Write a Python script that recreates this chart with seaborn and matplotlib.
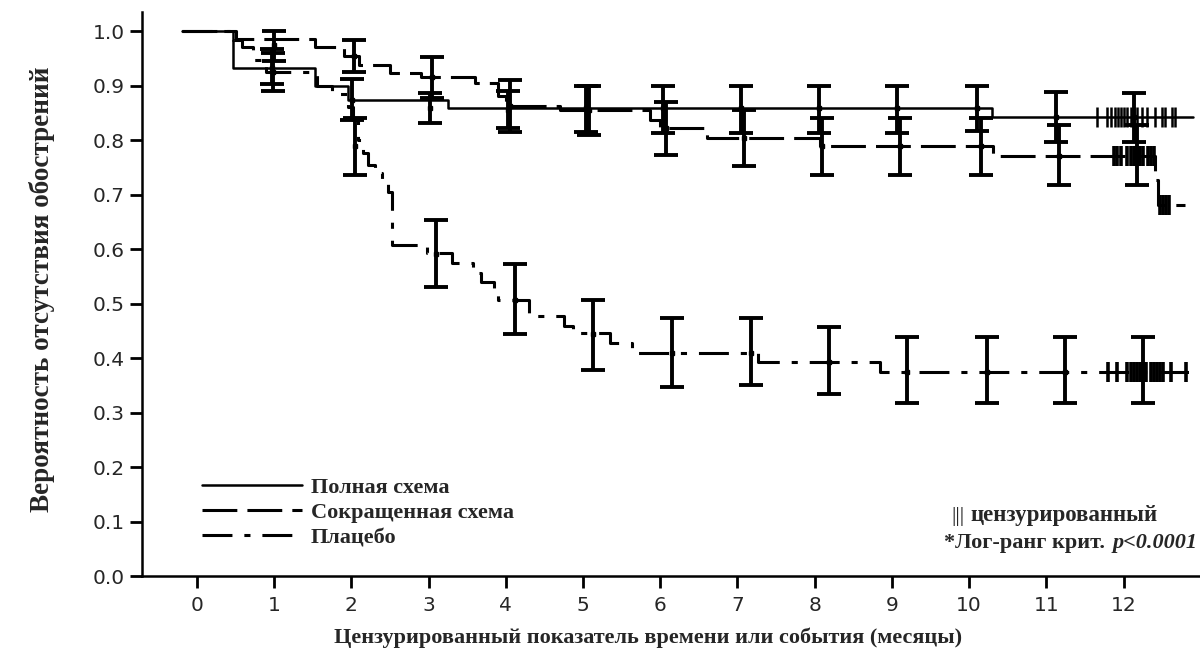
import matplotlib
matplotlib.use("Agg")
import matplotlib.pyplot as plt
import seaborn as sns
import pandas as pd

# Kaplan-Meier steps (months, probability)
full_t = [-0.2, 0.47, 1.53, 1.95, 3.25, 10.3, 12.9]
full_s = [1.0, 0.932, 0.90, 0.873, 0.858, 0.842, 0.842]

short_t = [-0.2, 0.5, 1.53, 1.9, 2.1, 2.5, 2.9, 3.6, 3.9, 4.0, 4.7,
           5.87, 6.0, 6.6, 8.07, 10.31, 12.41, 12.44, 12.8]
short_s = [1.0, 0.985, 0.97, 0.955, 0.937, 0.923, 0.915, 0.905, 0.88, 0.862, 0.855,
           0.837, 0.822, 0.804, 0.789, 0.771, 0.727, 0.681, 0.681]

placebo_t = [-0.2, 0.47, 0.58, 0.72, 0.9, 1.55, 1.75, 1.95, 2.02, 2.08, 2.15, 2.22,
             2.3, 2.4, 2.47, 2.53, 2.98, 3.3, 3.58, 3.68, 3.85, 3.9, 4.3, 4.75,
             4.87, 5.35, 5.63, 7.27, 8.85, 12.85]
placebo_s = [1.0, 0.983, 0.97, 0.947, 0.925, 0.90, 0.885, 0.861, 0.837, 0.80, 0.776, 0.754,
             0.74, 0.72, 0.705, 0.607, 0.592, 0.574, 0.556, 0.54, 0.525, 0.506, 0.477, 0.459,
             0.446, 0.428, 0.409, 0.393, 0.374, 0.374]

# confidence bars
full_bar_t = [0.97, 2.01, 3.02, 4.03, 5.04, 6.04, 7.04, 8.05, 9.07, 10.1, 11.13, 12.14]
full_bar_mid = [0.932, 0.873, 0.858, 0.856, 0.858, 0.858, 0.858, 0.858, 0.858, 0.858, 0.842, 0.842]
full_bar_lo = [0.903, 0.837, 0.831, 0.822, 0.815, 0.813, 0.813, 0.813, 0.813, 0.816, 0.797, 0.797]
full_bar_hi = [0.967, 0.912, 0.886, 0.89, 0.90, 0.90, 0.90, 0.90, 0.90, 0.90, 0.888, 0.887]

short_bar_t = [1.0, 2.03, 3.04, 4.06, 5.08, 6.08, 7.08, 8.09, 9.11, 10.15, 11.17, 12.18]
short_bar_mid = [0.975, 0.955, 0.915, 0.862, 0.855, 0.822, 0.804, 0.789, 0.789, 0.789, 0.771, 0.771]
short_bar_lo = [0.945, 0.925, 0.878, 0.815, 0.81, 0.772, 0.752, 0.736, 0.736, 0.736, 0.717, 0.717]
short_bar_hi = [1.0, 0.983, 0.952, 0.91, 0.90, 0.87, 0.856, 0.84, 0.84, 0.84, 0.827, 0.827]

placebo_bar_t = [0.98, 2.05, 3.10, 4.12, 5.13, 6.15, 7.18, 8.19, 9.20, 10.23, 11.24, 12.25]
placebo_bar_mid = [0.925, 0.79, 0.591, 0.506, 0.445, 0.409, 0.409, 0.393, 0.374, 0.374, 0.374, 0.374]
placebo_bar_lo = [0.89, 0.736, 0.530, 0.445, 0.378, 0.347, 0.35, 0.334, 0.317, 0.317, 0.317, 0.317]
placebo_bar_hi = [0.96, 0.84, 0.653, 0.572, 0.506, 0.473, 0.473, 0.457, 0.439, 0.439, 0.439, 0.439]

# censored observations
full_cens_t = [11.66, 11.79, 11.84, 11.89, 11.93, 11.97, 12.01, 12.05, 12.09, 12.13,
               12.18, 12.24, 12.30, 12.41, 12.50, 12.54, 12.63, 12.67]
full_cens_s = 0.842
short_cens_t = [11.87, 11.92, 11.97, 12.05, 12.09, 12.13, 12.17, 12.21, 12.25, 12.32, 12.36, 12.40]
short_cens_s = 0.771
short_cens2_t = [12.47, 12.51, 12.55, 12.59]
short_cens2_s = 0.681
placebo_cens_t = [11.8, 11.91, 12.05, 12.09, 12.13, 12.17, 12.21, 12.25, 12.29,
                  12.35, 12.39, 12.43, 12.47, 12.51, 12.62, 12.81]
placebo_cens_s = 0.374

labels = ["Полная схема", "Сокращенная схема", "Плацебо"]
x_ticks = list(range(0, 13))
y_ticks = [0.0, 0.1, 0.2, 0.3, 0.4, 0.5, 0.6, 0.7, 0.8, 0.9, 1.0]

sns.set_style("ticks")
plt.rcParams["font.family"] = ["DejaVu Sans"]
serif = {"family": "Liberation Serif", "weight": "bold"}

fig = plt.figure(figsize=(12, 6.49), dpi=100)
ax = fig.add_axes([142 / 1200, 1 - 576 / 649, 1058 / 1200, 564 / 649])

styles = [
    dict(linestyle="-", linewidth=1.8),
    dict(linestyle=(0, (11.4, 3.3)), linewidth=2.2),
    dict(linestyle=(0, (9.8, 3.9, 2.0, 3.9)), linewidth=2.2),
]
curves = [(full_t, full_s), (short_t, short_s), (placebo_t, placebo_s)]
handles = []
for (t, s), st, lab in zip(curves, styles, labels):
    df = pd.DataFrame({"t": t, "s": s})
    sns.lineplot(data=df, x="t", y="s", ax=ax, color="black", estimator=None,
                 drawstyle="steps-post", **st)
    handles.append(ax.lines[-1])

bars = [
    (full_bar_t, full_bar_mid, full_bar_lo, full_bar_hi),
    (short_bar_t, short_bar_mid, short_bar_lo, short_bar_hi),
    (placebo_bar_t, placebo_bar_mid, placebo_bar_lo, placebo_bar_hi),
]
for bt, mid, lo, hi in bars:
    err = [[m - l for m, l in zip(mid, lo)], [h - m for m, h in zip(mid, hi)]]
    ax.errorbar(bt, mid, yerr=err, fmt="s", color="black", markersize=3.5,
                elinewidth=2.8, capsize=8.5, capthick=2.8)

cens = [(full_cens_t, full_cens_s, 1.8), (short_cens_t, short_cens_s, 2.6),
        (short_cens2_t, short_cens2_s, 2.6), (placebo_cens_t, placebo_cens_s, 2.6)]
for ct, cs, mw in cens:
    ax.plot(ct, [cs] * len(ct), ls="none", marker="|", color="black",
            markersize=15, markeredgewidth=mw)

ax.set_xlim(-0.712, 12.99)
ax.set_ylim(0, 1.035)
ax.set_xticks(x_ticks)
ax.set_yticks(y_ticks)
ax.set_yticklabels([f"{v:.1f}" for v in y_ticks])
ax.tick_params(axis="both", length=8.5, width=2, labelsize=14.5, color="black")
ax.tick_params(axis="x", pad=6)
ax.tick_params(axis="y", pad=4)
sns.despine(ax=ax)
for sp in ["left", "bottom"]:
    ax.spines[sp].set_linewidth(1.8)
    ax.spines[sp].set_color("black")
ax.set_xlabel("")
ax.set_ylabel("")

fig.text(648 / 1200, 1 - 638 / 649, "Цензурированный показатель времени или события (месяцы)",
         ha="center", va="center", fontsize=16, **serif)
fig.text(42 / 1200, 1 - 289 / 649, "Вероятность отсутствия обострений",
         ha="center", va="center", rotation=90, fontsize=19.5, **serif)

ax.legend(handles, labels, loc="center left", bbox_to_anchor=(0.0567, 0.112),
          frameon=False, handlelength=4.5, handletextpad=0.4, labelspacing=0.2,
          borderpad=0, borderaxespad=0, prop={"family": "Liberation Serif",
                                              "weight": "bold", "size": 16})

fig.text(958 / 1200, 1 - 516 / 649, "|||", ha="center", va="center",
         fontsize=16, family="Liberation Serif")
fig.text(970 / 1200, 1 - 516 / 649, "цензурированный", ha="left", va="center",
         fontsize=16.5, **serif)
ptxt = fig.text(1198 / 1200, 1 - 543 / 649, "p<0.0001", ha="right", va="center",
                fontsize=16, family="Liberation Serif", weight="bold", style="italic")
fig.canvas.draw()
bb = ptxt.get_window_extent()
fig.text(bb.x0 / fig.bbox.width - 0.002, 1 - 543 / 649, "*Лог-ранг крит. ",
         ha="right", va="center", fontsize=16, **serif)

fig.savefig("out.png", dpi=100)
